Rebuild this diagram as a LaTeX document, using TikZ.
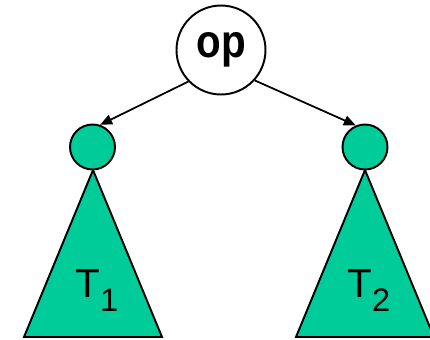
\documentclass[tikz,border=0pt]{standalone}
\usepackage{fontspec}
\setmainfont{Liberation Sans}
\usepackage{tikz}
\usetikzlibrary{arrows.meta}
\definecolor{treeFill}{HTML}{00CC99}
\definecolor{treeEdge}{HTML}{000000}
\newcommand{\treesubscr}[1]{\raisebox{-8.5pt}{\fontsize{18.5}{18.5}\selectfont #1}}
\tikzset{
  treeop/.style={circle,draw=treeEdge,line width=1.1pt,fill=white,minimum size=1.78cm,inner sep=0pt,
                 font=\fontsize{23}{26}\selectfont\bfseries},
  treeroot/.style={circle,draw=treeEdge,line width=1.1pt,fill=treeFill,minimum size=0.9cm,inner sep=0pt},
  treesub/.style={draw=treeEdge,line width=1.1pt,fill=treeFill,line join=miter},
  treelbl/.style={font=\fontsize{23}{26}\selectfont,inner sep=0pt,anchor=base west},
  treeflow/.style={-{Triangle[length=2.4mm,width=2mm]},draw=treeEdge,line width=1pt},
}

\begin{document}
\begin{tikzpicture}[x=0.02cm,y=-0.02cm]
  \useasboundingbox (0,0) rectangle (430,339);

  % Subtrees first, so the roots sit on their tips.
  \coordinate (t1top) at (93,170);
  \coordinate (t2top) at (365,170);
  \path[treesub] (t1top) -- (24,337) -- (162,337) -- cycle;
  \path[treesub] (t2top) -- (296,337) -- (434,337) -- cycle;
  \node[treelbl] (t1lbl) at (75,297) {T\treesubscr{1}};
  \node[treelbl] (t2lbl) at (347,297) {T\treesubscr{2}};

  \node[treeroot] (r1) at (92.5,147) {};
  \node[treeroot] (r2) at (365,147) {};
  \node[treeop] (op) at (221,50) {\scalebox{1}[1.15]{op}};

  \draw[treeflow] (op.224)--(r1.71);
  \draw[treeflow] (op.318)--(r2.113);
\end{tikzpicture}
\end{document}
